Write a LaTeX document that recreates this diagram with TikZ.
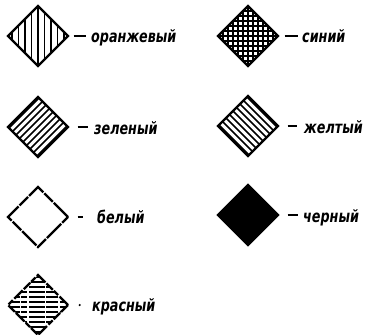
\documentclass[tikz,border=0pt]{standalone}
\usepackage{fontspec}
\newfontfamily\lab{DejaVu Sans}[FakeStretch=0.75]
\usetikzlibrary{shapes.geometric}
\tikzset{
  dia/.style={diamond, draw=black, line width=2.4pt, inner sep=0pt, minimum width=61pt, minimum height=61pt},
  hatch/.style={line width=1.5pt},
  lbl/.style={anchor=base west, inner sep=0pt, font=\lab\bfseries\itshape\fontsize{17}{17}\selectfont},
  dashline/.style={line width=2.2pt}
}
\begin{document}
\begin{tikzpicture}[x=1pt,y=-1pt]
\useasboundingbox (0,0) rectangle (371,334);
% orange - vertical hatching
\node[dia, path picture={
  \foreach \i in {-26,-19.5,...,26} \draw[hatch] ([xshift=\i pt]path picture bounding box.north) -- ([xshift=\i pt]path picture bounding box.south);}] (or) at (38,36) {};
\node[lbl] (ort) at (91,43) {оранжевый};
\draw[dashline] ([xshift=4pt]or.east) -- ([xshift=-5pt]ort.base west |- or.east);
% blue - cross hatching
\node[dia, path picture={
  \foreach \i in {-30,-25,...,30} {
   \draw[line width=1.2pt] ([xshift=\i pt]path picture bounding box.north) -- ([xshift=\i pt]path picture bounding box.south);
   \draw[line width=1.2pt] ([yshift=\i pt]path picture bounding box.west) -- ([yshift=\i pt]path picture bounding box.east);}}] (bl) at (248,36) {};
\node[lbl] (blt) at (302,43) {синий};
\draw[dashline] ([xshift=5pt]bl.east) -- ([xshift=-4pt]blt.base west |- bl.east);
% green - "/" hatching
\node[dia, path picture={
  \foreach \i in {-28,-21,...,28} \draw[hatch] ([shift={(\i-40,40)}]path picture bounding box.center) -- ([shift={(\i+40,-40)}]path picture bounding box.center);}] (gr) at (38,127) {};
\node[lbl] (grt) at (94,134) {зеленый};
\draw[dashline] ([xshift=8pt]gr.east) -- ([xshift=-6pt]grt.base west |- gr.east);
% yellow - "\" hatching
\node[dia, path picture={
  \foreach \i in {-28,-21,...,28} \draw[hatch] ([shift={(\i-40,-40)}]path picture bounding box.center) -- ([shift={(\i+40,40)}]path picture bounding box.center);}] (ye) at (248,126) {};
\node[lbl] (yet) at (304,133) {желтый};
\draw[dashline] ([xshift=8pt]ye.east) -- ([xshift=-7pt]yet.base west |- ye.east);
% white
\node[dia, dash pattern=on 20pt off 1.5pt on 12pt off 1.5pt] (wh) at (38,217) {};
\node[lbl] (wht) at (97,223) {белый};
\draw[dashline] ([xshift=8pt]wh.east) -- ([xshift=-14pt]wht.base west |- wh.east);
% black
\node[dia, fill=black] (bk) at (248,215) {};
\node[lbl] (bkt) at (303,222) {черный};
\draw[dashline] ([xshift=8pt]bk.east) -- ([xshift=-5pt]bkt.base west |- bk.east);
% red - broken horizontal hatching
\node[dia, dash pattern=on 12pt off 2pt on 6pt off 1.5pt on 9pt off 1.5pt, path picture={
  \foreach \i in {-27,-22,...,28} \draw[line width=1.5pt, dash pattern=on 12pt off 1.5pt on 6pt off 2pt on 16pt off 1pt] ([yshift=\i pt]path picture bounding box.west) -- ([yshift=\i pt]path picture bounding box.east);}] (rd) at (38,305) {};
\node[lbl] (rdt) at (92,311) {красный};
\fill (rd.east) ++(10pt,0) coordinate (rdd) circle (1.2pt);
\end{tikzpicture}
\end{document}
